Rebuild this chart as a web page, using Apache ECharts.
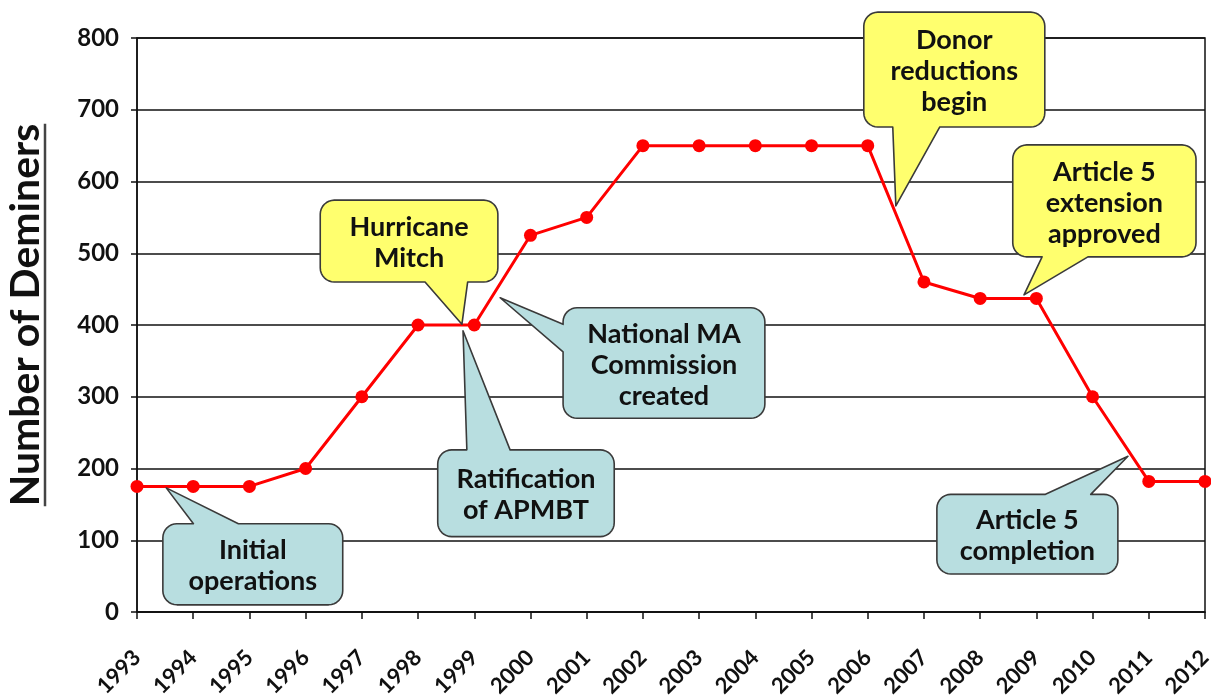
<!DOCTYPE html>
<html><head><meta charset="utf-8">
<script src="https://cdn.jsdelivr.net/npm/echarts@6/dist/echarts.min.js"></script>
<style>html,body{margin:0;padding:0;background:#fff}#c{width:1211px;height:699px}</style>
</head><body><div id="c"></div>
<script>
// ---- data ----
const years = ['1993','1994','1995','1996','1997','1998','1999','2000','2001','2002','2003','2004','2005','2006','2007','2008','2009','2010','2011','2012'];
const deminers = [175,175,175,200,300,400,400,525,550,650,650,650,650,650,460,437,437,300,182,182];
const yMin = 0, yMax = 800, yStep = 100;
const yTitle = 'Number of Deminers';

// callouts (anchored in data units: category index, value)
const calloutTexts = ['Hurricane\nMitch','Ratification\nof APMBT','National MA\nCommission\ncreated','Initial\noperations','Donor\nreductions\nbegin','Article 5\nextension\napproved','Article 5\ncompletion'];
const calloutBoxes = [[3.26,574,6.42,460],[5.35,226,8.49,105],[7.58,424,11.17,270],[0.46,123,3.66,10],[12.93,836,16.15,676],[15.58,651,18.84,495],[14.23,164,17.45,53]];
const calloutTips = [[5.78,401],[5.80,392],[6.46,438],[0.52,173],[13.50,566],[15.78,442],[17.63,217]];
const calloutSides = ['bottom','top','left','top','bottom','bottom','top'];
const calloutBases = [[0.59,0.83],[0.165,0.41],[0.15,0.40],[0.17,0.42],[0.16,0.42],[0.16,0.41],[0.60,0.85]];
const calloutKinds = ['event','treaty','treaty','treaty','event','event','treaty'];

const FONT = 'Lato, "Open Sans", sans-serif';
const kindFill = {event:'#FFFF6E', treaty:'#B8DEE0'};

const chart = echarts.init(document.getElementById('c'));
chart.setOption({
  animation:false,
  backgroundColor:'#fff',
  grid:{left:137,right:6,top:38,bottom:87,outerBoundsMode:'none',containLabel:false,show:true,borderColor:'#111',borderWidth:1.5,backgroundColor:'transparent'},
  xAxis:{type:'category',data:years,boundaryGap:false,
    axisLine:{lineStyle:{color:'#111',width:1.5}},
    axisTick:{show:true,length:7,lineStyle:{color:'#111',width:1.5}},
    axisLabel:{rotate:45,interval:0,margin:42,fontFamily:FONT,fontWeight:'bold',fontSize:22,color:'#111'}},
  yAxis:{type:'value',min:yMin,max:yMax,interval:yStep,
    axisLine:{show:true,lineStyle:{color:'#111',width:1.5}},
    axisTick:{show:true,length:6,lineStyle:{color:'#111',width:1.5}},
    splitLine:{show:true,lineStyle:{color:'#111',width:1.5}},
    axisLabel:{margin:18,fontFamily:FONT,fontWeight:'bold',fontSize:24,color:'#111'}},
  series:[{type:'line',data:deminers,symbol:'circle',symbolSize:13,
    lineStyle:{color:'#FF0000',width:3},itemStyle:{color:'#FF0000'},z:5}]
});

// linear map from data units to pixels through the chart's own axes
const p0 = chart.convertToPixel({gridIndex:0},[0,yMin]);
const p1 = chart.convertToPixel({gridIndex:0},[years.length-1,yMax]);
function px(i,v){
  return [p0[0]+(p1[0]-p0[0])*i/(years.length-1), p0[1]+(p1[1]-p0[1])*(v-yMin)/(yMax-yMin)];
}
function arc(pts,cx,cy,r,a0,a1){
  const n=8;
  for(let s=0;s<=n;s++){const a=a0+(a1-a0)*s/n;pts.push([cx+r*Math.cos(a),cy+r*Math.sin(a)]);}
}
function bubblePoints(x0,y0,x1,y1,r,side,f1,f2,tx,ty){
  const P=[];const PI=Math.PI;
  arc(P,x0+r,y0+r,r,PI,1.5*PI);
  if(side==='top'){P.push([x0+(x1-x0)*f1,y0],[tx,ty],[x0+(x1-x0)*f2,y0]);}
  arc(P,x1-r,y0+r,r,1.5*PI,2*PI);
  if(side==='right'){P.push([x1,y0+(y1-y0)*f1],[tx,ty],[x1,y0+(y1-y0)*f2]);}
  arc(P,x1-r,y1-r,r,0,0.5*PI);
  if(side==='bottom'){P.push([x0+(x1-x0)*f2,y1],[tx,ty],[x0+(x1-x0)*f1,y1]);}
  arc(P,x0+r,y1-r,r,0.5*PI,PI);
  if(side==='left'){P.push([x0,y0+(y1-y0)*f2],[tx,ty],[x0,y0+(y1-y0)*f1]);}
  return P;
}
const elements=[];
calloutTexts.forEach((t,k)=>{
  const b=calloutBoxes[k];
  const a=px(b[0],b[1]), c=px(b[2],b[3]);
  const tip=px(calloutTips[k][0],calloutTips[k][1]);
  elements.push({type:'polygon',z:100,shape:{points:bubblePoints(a[0],a[1],c[0],c[1],14,calloutSides[k],calloutBases[k][0],calloutBases[k][1],tip[0],tip[1])},
    style:{fill:kindFill[calloutKinds[k]],stroke:'#3a3a3a',lineWidth:1.6,lineJoin:'round'}});
  elements.push({type:'text',z:101,style:{text:t,x:(a[0]+c[0])/2,y:(a[1]+c[1])/2+2,align:'center',verticalAlign:'middle',
    font:'bold 27px '+FONT,fill:'#111',lineHeight:31}});
});
// y title with underline
const titleSize=41;
const ctx=document.createElement('canvas').getContext('2d');
ctx.font='bold '+titleSize+'px '+FONT;
const tw=ctx.measureText(yTitle).width;
const tcx=26, tcy=315;
elements.push({type:'text',z:101,x:tcx,y:tcy,rotation:Math.PI/2,style:{text:yTitle,x:0,y:0,align:'center',verticalAlign:'middle',font:'bold '+titleSize+'px '+FONT,fill:'#111'}});
elements.push({type:'line',z:101,shape:{x1:tcx+19,y1:tcy-tw/2,x2:tcx+19,y2:tcy+tw/2},style:{stroke:'#444',lineWidth:2.5}});
chart.setOption({graphic:{elements}});
</script></body></html>
